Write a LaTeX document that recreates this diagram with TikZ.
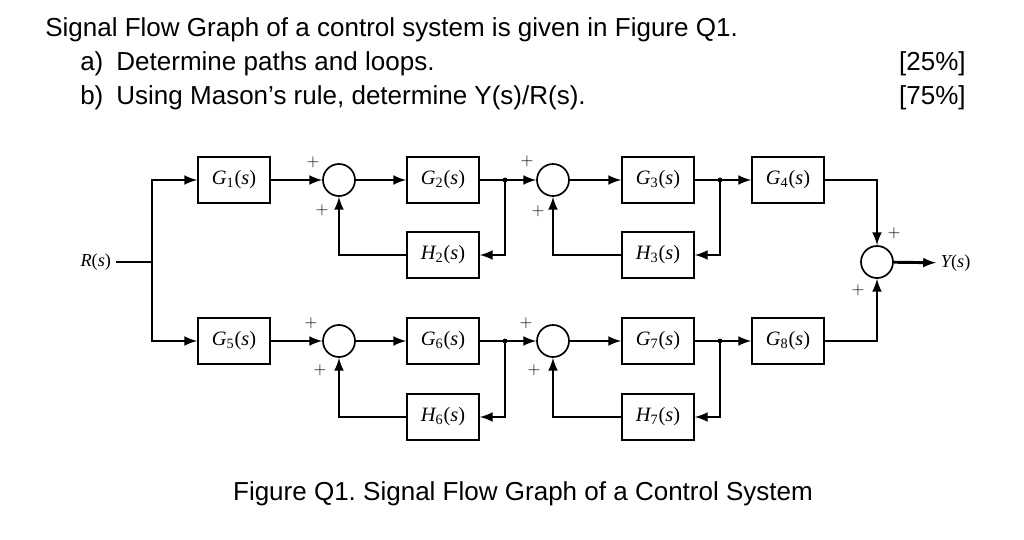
\documentclass[tikz,border=0pt]{standalone}
\usepackage{fontspec}
\setmainfont{Liberation Sans}
\newfontfamily\blockfont{Liberation Serif}
\frenchspacing

% Transfer function label, as G_1(s).
\newcommand{\tfn}[2]{{\blockfont\itshape #1\textsubscript{\upshape #2}\upshape(\itshape s\upshape)}}

\begin{document}
\begin{tikzpicture}[%
        block/.style = {%
            draw, line width = 1.2pt,
            minimum width = 1.8cm, minimum height = 1.15cm,
            inner sep = 0pt, font = \fontsize{14.5}{16}\selectfont
        },
        summer/.style = {%
            draw, circle, line width = 1.2pt,
            minimum size = 0.8cm, inner sep = 0pt
        },
        signal/.style = {line width = 2.1pt},
        plussign/.style = {font = \fontsize{12}{14}\selectfont, inner sep = 0pt},
        question/.style = {font = \fontsize{18.5}{22}\selectfont, inner sep = 0pt},
        x = 0.025cm, y = -0.025cm,
        > = latex
    ]

        % Fix the page to the size of the reference.
        \useasboundingbox (0, 0) rectangle (1024, 539);

        % The question text above the figure.
        \node[question, anchor = base west] (q) at (45, 36)
            {Signal Flow Graph of a control system is given in Figure Q1.};
        \node[question, anchor = base west] (qa) at (80, 70)
            {a)\enspace Determine paths and loops.};
        \node[question, anchor = base west] (qb) at (80, 104)
            {b)\enspace Using Mason’s rule, determine Y(s)/R(s).};
        \node[question, anchor = base east] (ma) at (966, 70) {[25\%]};
        \node[question, anchor = base east] (mb) at (966, 104) {[75\%]};

        % Input and output of the graph.
        \node[anchor = east, font = \fontsize{13}{15}\selectfont] (R) at (116, 262)
            {\blockfont\itshape R\upshape(\itshape s\upshape)};
        \coordinate (split) at (152, 262);
        \node[anchor = west, font = \fontsize{13}{15}\selectfont] (Y) at (936, 263)
            {\blockfont\itshape Y\upshape(\itshape s\upshape)};

        % Upper branch.
        \node[block]  (G1) at (234, 180) {\tfn{G}{1}};
        \node[summer] (S1) at (339, 180) {};
        \node[block]  (G2) at (443, 180) {\tfn{G}{2}};
        \node[block]  (H2) at (443, 255) {\tfn{H}{2}};
        \coordinate   (J1) at (505, 180);
        \node[summer] (S2) at (553, 180) {};
        \node[block]  (G3) at (658, 180) {\tfn{G}{3}};
        \node[block]  (H3) at (658, 255) {\tfn{H}{3}};
        \coordinate   (J2) at (720, 180);
        \node[block]  (G4) at (788, 180) {\tfn{G}{4}};

        % Lower branch.
        \node[block]  (G5) at (234, 341) {\tfn{G}{5}};
        \node[summer] (S4) at (339, 341) {};
        \node[block]  (G6) at (443, 341) {\tfn{G}{6}};
        \node[block]  (H6) at (443, 417) {\tfn{H}{6}};
        \coordinate   (J3) at (505, 341);
        \node[summer] (S5) at (553, 341) {};
        \node[block]  (G7) at (658, 341) {\tfn{G}{7}};
        \node[block]  (H7) at (658, 417) {\tfn{H}{7}};
        \coordinate   (J4) at (720, 341);
        \node[block]  (G8) at (788, 341) {\tfn{G}{8}};

        % Output summing junction.
        \node[summer] (S3) at (877, 262) {};

        % Signals of the upper branch.
        \draw[signal] (R) -- (split);
        \draw[signal, ->] (split) |- (G1);
        \draw[signal, ->] (G1) -- (S1);
        \draw[signal, ->] (S1) -- (G2);
        \draw[signal] (G2) -- (J1);
        \draw[signal, ->] (J1) -- (S2);
        \draw[signal, ->] (J1) |- (H2);
        \draw[signal, ->] (H2) -| (S1);
        \draw[signal, ->] (S2) -- (G3);
        \draw[signal] (G3) -- (J2);
        \draw[signal, ->] (J2) -- (G4);
        \draw[signal, ->] (J2) |- (H3);
        \draw[signal, ->] (H3) -| (S2);
        \draw[signal, ->] (G4) -| (S3);

        % Signals of the lower branch.
        \draw[signal, ->] (split) |- (G5);
        \draw[signal, ->] (G5) -- (S4);
        \draw[signal, ->] (S4) -- (G6);
        \draw[signal] (G6) -- (J3);
        \draw[signal, ->] (J3) -- (S5);
        \draw[signal, ->] (J3) |- (H6);
        \draw[signal, ->] (H6) -| (S4);
        \draw[signal, ->] (S5) -- (G7);
        \draw[signal] (G7) -- (J4);
        \draw[signal, ->] (J4) -- (G8);
        \draw[signal, ->] (J4) |- (H7);
        \draw[signal, ->] (H7) -| (S5);
        \draw[signal, ->] (G8) -| (S3);

        % Output.
        \draw[signal, ->] (S3) -- (Y);

        % Branch points.
        \foreach \j in {J1, J2, J3, J4}
            \fill (\j) circle (2.4);

        % Signs at the summing junctions.
        \node[plussign] (p1a) at (313, 162) {$+$};
        \node[plussign] (p1b) at (322, 210) {$+$};
        \node[plussign] (p2a) at (527, 161) {$+$};
        \node[plussign] (p2b) at (538, 211) {$+$};
        \node[plussign] (p4a) at (311, 323) {$+$};
        \node[plussign] (p4b) at (320, 370) {$+$};
        \node[plussign] (p5a) at (526, 323) {$+$};
        \node[plussign] (p5b) at (534, 370) {$+$};
        \node[plussign] (p3a) at (894, 233) {$+$};
        \node[plussign] (p3b) at (858, 290) {$+$};

        % Caption.
        \node[question, anchor = base] (cap) at (523, 500)
            {Figure Q1. Signal Flow Graph of a Control System};
    \end{tikzpicture}
\end{document}
